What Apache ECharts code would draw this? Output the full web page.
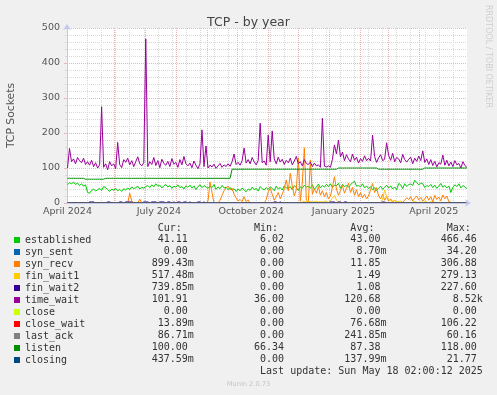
<!DOCTYPE html>
<html><head><meta charset="utf-8">
<script src="https://cdn.jsdelivr.net/npm/echarts@6/dist/echarts.min.js"></script>
<style>html,body{margin:0;padding:0;background:#f0f0f0;}#c{width:497px;height:395px;}</style>
</head><body><div id="c"></div>
<script>
// ---- data (one value every 2 days, starting 2024-04-15) ----
const firstDay = '2024-04-15';
const stepDays = 2;

const established = [
52,58,55,60,53,57,50,55,48,52, 30,28,36,40,34,38,42,36,47,44,
38,33,40,36,42,35,39,33,41,37, 43,38,46,41,44,48,40,45,42,47,
50,44,52,46,55,48,51,43,49,53, 46,50,42,48,45,52,44,47,40,49,
45,51,43,49,38,47,52,44,50,46, 42,48,44,53,39,46,41,50,43,45,
38,44,36,41,33,40,35,43,37,32, 40,36,45,38,42,34,47,41,37,44,
39,46,42,35,48,40,44,37,49,43, 41,47,38,50,44,36,46,42,51,45,
48,42,52,39,46,54,43,50,45,53, 47,55,44,51,49,56,42,53,47,50,
45,52,58,62,48,50,46,55,43,49, 41,47,38,44,36,42,48,39,45,51,
43,49,40,46,38,56,52,41,55,47, 53,54,50,65,58,52,57,55,44,50,
47,53,44,51,42,48,56,45,50,43, 49,30,45,52,47,55,43,50,46,41];

const synSent = [
0,0,0,0,0,0,0,0,0,0,0,0,0,0,0,0,0,0,0,0, 0,0,0,0,0,0,0,0,0,0,0,0,0,0,0,0,0,0,0,0,
0,0,0,0,0,0,0,0,0,0,0,0,0,0,0,0,0,0,0,0, 0,0,0,0,0,0,0,0,0,0,0,0,0,0,0,0,0,0,0,0,
0,0,0,0,0,0,0,0,0,0,0,0,0,0,0,0,0,0,0,0, 0,0,0,0,0,0,0,0,0,0,0,0,0,0,0,0,0,0,0,0,
0,0,0,0,0,0,0,0,0,0,0,0,0,0,0,0,0,0,0,0, 0,0,0,0,0,0,0,0,0,0,0,0,0,0,0,0,0,0,0,0,
0,0,0,0,0,0,0,0,0,0,0,0,0,0,0,0,0,0,0,0, 0,0,0,0,0,0,0,0,0,0,0,0,0,0,0,0,0,0,0,0];

const synRecv = [
0,0,0,0,0,0,0,0,0,0, 0,0,0,0,0,0,0,0,0,0,
0,0,0,0,0,0,0,0,0,0, 0,28,6,0,0,0,11,0,0,0,
0,0,0,0,0,0,0,0,0,0, 0,0,0,0,0,0,0,0,0,0,
0,0,0,0,0,0,0,0,0,0, 5,60,30,0,0,0,8,22,35,44,
48,38,42,25,14,6,10,4,18,4, 9,0,0,0,0,0,0,0,0,10,
32,42,25,8,18,30,12,26,40,66, 35,85,48,20,38,129,5,60,158,8,
3,123,25,40,28,47,22,35,18,30, 12,20,45,75,40,22,35,50,28,42,
57,30,45,22,38,18,30,15,25,12, 20,38,56,30,44,20,12,25,8,18,
5,12,3,8,0,4,0,2,8,15, 10,18,6,14,20,9,16,5,12,20,
8,18,3,22,10,17,6,23,12,20, 4,2,0,0,0,0,0,0,0,1];

const finWait1 = [
0,0,0,0,0,0,0,0,0,0, 0,0,0,0,0,0,0,0,0,0,
0,0,0,0,0,0,0,0,0,0, 0,0,0,0,0,0,0,0,0,0,
0,0,0,0,0,0,0,0,0,0, 0,0,0,0,0,0,0,0,0,0,
0,0,0,0,0,0,0,0,0,0, 0,0,0,0,0,0,0,0,0,0,
0,0,0,0,0,0,0,0,0,0, 0,0,0,0,0,0,0,0,0,0,
0,0,0,0,0,0,0,0,0,0, 0,0,0,0,0,0,0,3,4,3,
5,4,3,4,5,3,4,3,5,4, 2,6,14,21,9,3,0,0,0,0,
0,0,0,0,0,0,0,0,0,0, 0,0,0,0,0,0,0,12,37,18,
9,6,5,7,4,3,5,2,0,0, 0,0,3,4,2,0,3,0,4,3,
0,4,0,3,0,2,0,0,0,0, 0,0,0,0,0,0,0,0,0,0];

const finWait2 = [
0,0,0,0,0,0,0,0,0,0, 0,3,3,3,0,0,0,0,0,0,
3,3,0,0,0,0,3,3,0,3, 3,3,3,0,0,0,0,0,3,3,
3,0,3,3,3,0,3,3,3,0, 3,3,0,3,0,3,3,0,3,3,
0,3,0,0,0,3,3,0,3,0, 0,0,0,0,0,0,0,0,0,0,
0,0,0,0,0,0,0,0,0,0, 0,0,0,0,0,0,0,0,0,0,
0,0,0,3,3,0,3,0,0,0, 0,0,0,0,0,0,0,0,0,0,
0,0,0,0,0,0,0,0,0,0, 0,3,3,3,0,3,3,0,3,3,
0,0,0,0,0,0,0,0,0,0, 0,0,0,0,0,0,0,3,3,0,
0,0,0,0,0,0,0,0,0,0, 0,0,0,0,0,0,0,0,0,0,
0,0,0,0,0,0,0,0,0,0, 0,0,0,0,0,0,0,0,0,0];

const timeWait = [
100,156,118,126,112,130,121,115,128,110, 118,108,122,104,115,100,109,275,102,112,
95,118,106,112,98,173,110,101,124,116, 128,109,121,104,118,132,112,106,115,469,
104,118,110,130,107,121,101,125,113,108, 119,104,127,111,116,102,124,109,133,112,
106,114,101,120,108,98,112,209,104,163, 100,108,103,111,99,106,113,102,109,104,
112,105,118,140,110,116,108,121,157,114, 124,112,130,118,109,121,228,115,120,108,
194,118,206,126,112,131,117,125,110,122, 115,128,109,120,133,112,118,106,124,113,
110,117,104,114,106,109,102,242,105,103, 106,102,125,166,140,180,132,145,121,138,
126,118,140,122,131,114,127,119,135,121, 128,120,194,133,116,129,138,121,125,172,
136,122,142,118,130,126,115,139,124,117, 125,131,112,128,119,134,121,149,116,126,
110,124,107,119,103,115,111,137,108,122, 106,117,104,121,109,113,100,118,107,102];

const closeState = [
0,0,0,0,0,0,0,0,0,0,0,0,0,0,0,0,0,0,0,0, 0,0,0,0,0,0,0,0,0,0,0,0,0,0,0,0,0,0,0,0,
0,0,0,0,0,0,0,0,0,0,0,0,0,0,0,0,0,0,0,0, 0,0,0,0,0,0,0,0,0,0,0,0,0,0,0,0,0,0,0,0,
0,0,0,0,0,0,0,0,0,0,0,0,0,0,0,0,0,0,0,0, 0,0,0,0,0,0,0,0,0,0,0,0,0,0,0,0,0,0,0,0,
0,0,0,0,0,0,0,0,0,0,0,0,0,0,0,0,0,0,0,0, 0,0,0,0,0,0,0,0,0,0,0,0,0,0,0,0,0,0,0,0,
0,0,0,0,0,0,0,0,0,0,0,0,0,0,0,0,0,0,0,0, 0,0,0,0,0,0,0,0,0,0,0,0,0,0,0,0,0,0,0,0];

const closeWait = [
0,0,0,0,0,0,0,0,0,0,0,0,0,0,0,0,0,0,0,0, 0,0,0,0,0,0,0,0,0,0,0,0,0,0,0,0,0,0,0,0,
0,0,0,0,0,0,0,0,0,0,0,0,0,0,0,0,0,0,0,0, 0,0,0,0,0,0,0,0,0,0,0,0,0,0,0,0,0,0,0,0,
0,0,0,0,0,0,0,0,0,0,0,0,0,0,0,0,0,0,0,0, 0,0,0,0,0,0,0,0,0,0,0,0,0,0,0,0,0,0,0,0,
0,0,0,0,0,0,0,0,0,0,0,0,0,0,0,0,0,0,0,0, 0,0,0,0,0,0,0,0,0,0,0,0,0,0,0,0,0,0,0,0,
0,0,0,0,0,0,0,0,0,0,0,0,0,0,0,0,0,0,0,0, 0,0,0,0,0,0,0,0,0,0,0,0,0,0,0,0,0,0,0,0];

const lastAck = [
0,0,0,0,0,0,0,0,0,0,0,0,0,0,0,0,0,0,0,0, 0,0,0,0,0,0,0,0,0,0,0,0,0,0,0,0,0,0,0,0,
0,0,0,0,0,0,0,0,0,0,0,0,0,0,0,0,0,0,0,0, 0,0,0,0,0,0,0,0,0,0,0,0,0,0,0,0,0,0,0,0,
0,0,0,0,0,0,0,0,0,0,0,0,0,0,0,0,0,0,0,0, 0,0,0,0,0,0,0,0,0,0,0,0,0,0,0,0,0,0,0,0,
0,0,0,0,0,0,0,0,0,0,0,0,0,0,0,0,0,0,0,0, 0,0,0,0,0,0,0,0,0,0,0,0,0,0,0,0,0,0,0,0,
0,0,0,0,0,0,0,0,0,0,0,0,0,0,0,0,0,0,0,0, 0,0,0,0,0,0,0,0,0,0,0,0,0,0,0,0,0,0,0,0];

const listen = [
70.5,70.5,70.5,70.5,70.5,70.5,70.5,70.5,70.5,68, 68,68,68,68,68,68,68,68,68,70.5,
70.5,70.5,70.5,70.5,70.5,70.5,70.5,70.5,70.5,70.5, 70.5,70.5,70.5,70.5,70.5,70.5,70.5,70.5,70.5,70.5,
70.5,70.5,70.5,70.5,70.5,70.5,70.5,70.5,70.5,70.5, 70.5,70.5,70.5,70.5,70.5,70.5,70.5,70.5,70.5,70.5,
70.5,70.5,70.5,70.5,70.5,70.5,70.5,70.5,70.5,70.5, 70.5,70.5,70.5,70.5,70.5,70.5,70.5,70.5,70.5,70.5,
70.5,70.5,96.5,96.5,96.5,96.5,96.5,96.5,96.5,96.5, 96.5,96.5,96.5,96.5,96.5,96.5,96.5,96.5,96.5,96.5,
96.5,96.5,96.5,96.5,96.5,96.5,96.5,96.5,96.5,96.5, 96.5,96.5,96.5,96.5,96.5,96.5,96.5,96.5,96.5,96.5,
96.5,96.5,96.5,96.5,96.5,96.5,96.5,96.5,96.5,96.5, 96.5,96.5,96.5,96.5,96.5,100,100,100,100,100,
100,100,100,100,100,100,100,100,100,100, 100,100,100,100,100,96.5,96.5,96.5,96.5,96.5,
96.5,96.5,96.5,96.5,96.5,96.5,96.5,96.5,96.5,96.5, 96.5,96.5,96.5,96.5,96.5,96.5,96.5,96.5,100,100,
100,100,100,100,100,100,100,100,100,100, 100,100,100,100,100,100,100,100,100,100];

const closing = [
0,0,0,0,0,0,0,0,0,0,0,0,0,0,0,0,0,0,0,0, 0,0,0,0,0,0,0,0,0,0,0,0,0,0,0,0,0,0,0,0,
0,0,0,0,0,0,0,0,0,0,0,0,0,0,0,0,0,0,0,0, 0,0,0,0,0,0,0,0,0,0,0,0,0,0,0,0,0,0,0,0,
0,0,0,0,0,0,0,0,0,0,0,0,0,0,0,0,0,0,0,0, 0,0,0,0,0,0,0,0,0,0,0,0,0,0,0,0,0,0,0,0,
0,0,0,0,0,0,0,0,0,0,0,0,0,0,0,0,0,0,0,0, 0,0,0,0,0,0,0,0,0,0,0,0,0,0,0,0,0,0,0,0,
0,0,0,0,0,0,0,0,0,0,0,0,0,0,0,0,0,0,0,0, 0,0,0,0,0,0,0,0,0,0,0,0,0,0,0,0,0,0,0,0];

// legend table
const seriesNames = ['established','syn_sent','syn_recv','fin_wait1','fin_wait2','time_wait','close','close_wait','last_ack','listen','closing'];
const seriesColors = ['#00cc00','#0066b3','#ff8000','#ffcc00','#330099','#990099','#ccff00','#ff0000','#808080','#008f00','#00487d'];
const curVals = ['41.11','0.00','899.43m','517.48m','739.85m','101.91','0.00','13.89m','86.71m','100.00','437.59m'];
const minVals = ['6.02','0.00','0.00','0.00','0.00','36.00','0.00','0.00','0.00','66.34','0.00'];
const avgVals = ['43.00','8.70m','11.85','1.49','1.08','120.68','0.00','76.68m','241.85m','87.38','137.99m'];
const maxVals = ['466.46','34.20','306.88','279.13','227.60','8.52k','0.00','106.22','60.16','118.00','21.77'];
const colHeaders = ['Cur:','Min:','Avg:','Max:'];

// axis: range, month grid, biweekly grid, label months
const axisStart = '2024-04-14T12:00';
const axisEnd = '2025-05-18T02:00';
const monthStarts = ['2024-05-01','2024-06-01','2024-07-01','2024-08-01','2024-09-01','2024-10-01','2024-11-01','2024-12-01','2025-01-01','2025-02-01','2025-03-01','2025-04-01','2025-05-01'];
const biweekly = ['2024-04-21','2024-05-05','2024-05-19','2024-06-02','2024-06-16','2024-06-30','2024-07-14','2024-07-28','2024-08-11','2024-08-25','2024-09-08','2024-09-22','2024-10-06','2024-10-20','2024-11-03','2024-11-17','2024-12-01','2024-12-15','2024-12-29','2025-01-12','2025-01-26','2025-02-09','2025-02-23','2025-03-09','2025-03-23','2025-04-06','2025-04-20','2025-05-04','2025-05-18'];
const labelDates = ['2024-04-15','2024-07-15','2024-10-15','2025-01-15','2025-04-15'];
const monthNames = ['January','February','March','April','May','June','July','August','September','October','November','December'];
const yTicks = [0, 500, 100];
const titleText = 'TCP - by year';
const yName = 'TCP Sockets';
const lastUpdate = 'Last update: Sun May 18 02:00:12 2025';
const footer = 'Munin 2.0.73';
const watermark = 'RRDTOOL / TOBI OETIKER';

// ---- build ----
function ts(s) {
  const [d, t] = s.split('T');
  const [y, m, dd] = d.split('-').map(Number);
  let hh = 0, mm = 0;
  if (t) { [hh, mm] = t.split(':').map(Number); }
  return Date.UTC(y, m - 1, dd, hh, mm);
}
const DAY = 86400000;
const t0 = ts(firstDay);
const tMin = ts(axisStart), tMax = ts(axisEnd);

const allData = [established, synSent, synRecv, finWait1, finWait2, timeWait, closeState, closeWait, lastAck, listen, closing];

const series = allData.map((vals, k) => ({
  name: seriesNames[k],
  type: 'line',
  xAxisIndex: 0,
  yAxisIndex: 0,
  data: vals.map((v, i) => [t0 + i * stepDays * DAY, v]),
  symbol: 'none',
  showSymbol: false,
  color: seriesColors[k],
  itemStyle: { color: seriesColors[k] },
  lineStyle: { width: 1, color: seriesColors[k] },
  silent: true,
  animation: false
}));

const majorCol = '#efb3b3';
const minorCol = '#d8d8d8';
const axisCol = '#c3c9ee';
const labelFont = 'DejaVu Sans';

const fld = s => (/[0-9]$/.test(s) ? s + ' ' : s).padStart(16, ' ');
const hdr = s => (s + '  ').padStart(16, ' ');
const charW = 6.02;
const x0 = 97.5;
const monoFont = '10px "DejaVu Sans Mono"';

const graphics = [];
graphics.push({ type: 'text', x: x0, y: 228, silent: true,
  style: { text: colHeaders.map(hdr).join(''), font: monoFont, fill: '#333', align: 'left', verticalAlign: 'middle' } });
for (let k = 0; k < seriesNames.length; k++) {
  graphics.push({ type: 'text', x: x0, y: 239.7 + 12 * k, silent: true,
    style: { text: fld(curVals[k]) + fld(minVals[k]) + fld(avgVals[k]) + fld(maxVals[k]), font: monoFont, fill: '#333', align: 'left', verticalAlign: 'middle' } });
}
graphics.push({ type: 'text', x: x0 + 27 * charW, y: 371.7, silent: true,
  style: { text: lastUpdate, font: monoFont, fill: '#333', align: 'left', verticalAlign: 'middle' } });
graphics.push({ type: 'text', x: 248.5, y: 384, silent: true,
  style: { text: footer, font: '6.7px "DejaVu Sans"', fill: '#c4c4c4', align: 'center', verticalAlign: 'middle' } });
graphics.push({ type: 'text', x: 488, y: 5, rotation: -Math.PI / 2, silent: true,
  style: { text: watermark, font: '8px "DejaVu Sans"', fill: '#cfcfcf', align: 'left', verticalAlign: 'middle' } });

const option = {
  backgroundColor: '#f0f0f0',
  animation: false,
  title: { text: titleText, left: 'center', top: 11,
    textStyle: { fontFamily: labelFont, fontSize: 12.5, fontWeight: 'normal', color: '#444' } },
  grid: { left: 67, right: 30, top: 28, bottom: 192, show: true, backgroundColor: '#ffffff', borderWidth: 0, containLabel: false, outerBoundsMode: 'none' },
  legend: {
    data: seriesNames, orient: 'vertical', left: 14, top: 234, padding: 0, itemGap: 0,
    itemWidth: 6, itemHeight: 6, icon: 'rect', selectedMode: false,
    textStyle: { fontFamily: 'DejaVu Sans Mono', fontSize: 10, lineHeight: 12, color: '#333' }
  },
  xAxis: [
    { type: 'value', min: tMin, max: tMax, position: 'bottom', gridIndex: 0, scale: true,
      axisLine: { show: false }, axisTick: { show: false, customValues: biweekly.map(ts) },
      axisLabel: { show: false },
      splitLine: { show: true, showMinLine: false, showMaxLine: false, lineStyle: { color: minorCol, type: [1, 1], width: 1 } } },
    { type: 'value', min: tMin, max: tMax, position: 'bottom', gridIndex: 0, scale: true,
      axisLine: { show: false }, axisTick: { show: false, customValues: monthStarts.map(ts) },
      axisLabel: { show: true, customValues: labelDates.map(ts), margin: 4,
        color: '#555', fontFamily: labelFont, fontSize: 9.5, showMinLabel: true, showMaxLabel: true,
        formatter: v => { const d = new Date(v); return monthNames[d.getUTCMonth()] + ' ' + d.getUTCFullYear(); } },
      splitLine: { show: true, showMinLine: false, showMaxLine: false, lineStyle: { color: majorCol, type: [1, 1], width: 1 } } },
    { type: 'value', min: tMin, max: tMax, position: 'bottom', gridIndex: 0, z: 10, scale: true,
      axisLine: { show: true, onZero: false, lineStyle: { color: axisCol, width: 1 }, symbol: ['none', 'arrow'], symbolSize: [6, 6], symbolOffset: [0, 4] },
      axisTick: { show: false }, axisLabel: { show: false }, splitLine: { show: false } }
  ],
  yAxis: [{
    type: 'value', min: yTicks[0], max: yTicks[1], interval: yTicks[2],
    name: yName, nameLocation: 'middle', nameRotate: 90, nameGap: 50,
    nameTextStyle: { fontFamily: labelFont, fontSize: 10.8, color: '#555' },
    axisLine: { show: true, onZero: false, lineStyle: { color: axisCol, width: 1 }, symbol: ['none', 'arrow'], symbolSize: [6, 6], symbolOffset: [0, 4] },
    axisTick: { show: true, length: 3, lineStyle: { color: majorCol } },
    minorTick: { show: true, splitNumber: 5, length: 2, lineStyle: { color: minorCol } },
    axisLabel: { margin: 7, color: '#555', fontFamily: labelFont, fontSize: 9.5 },
    splitLine: { show: true, lineStyle: { color: majorCol, type: [1, 1], width: 1 } },
    minorSplitLine: { show: true, lineStyle: { color: minorCol, type: [1, 1], width: 1 } }
  }],
  graphic: graphics,
  series: series
};

const chart = echarts.init(document.getElementById('c'), null, { renderer: 'canvas', width: 497, height: 395 });
chart.setOption(option);
</script>
</body></html>
